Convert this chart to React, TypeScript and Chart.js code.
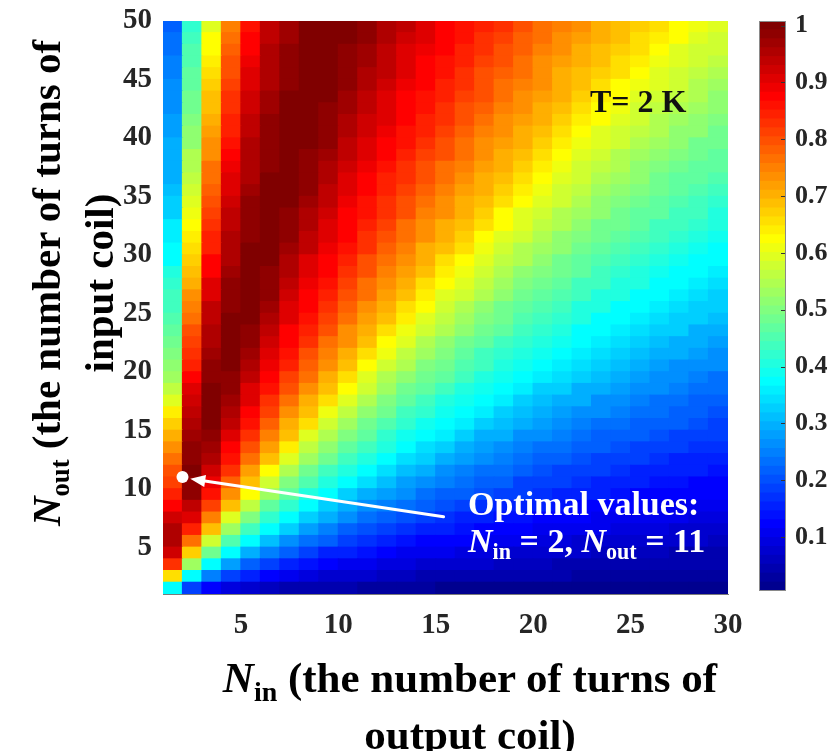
import React, { useEffect, useRef } from "react";
import { Chart, registerables } from "chart.js";

Chart.register(...registerables);

// ---------------- data ----------------
// N_in values (columns) and N_out values (rows) of the pcolor grid
const N_IN = [1, 2, 3, 4, 5, 6, 7, 8, 9, 10, 11, 12, 13, 14, 15, 16, 17, 18, 19, 20, 21, 22, 23, 24, 25, 26, 27, 28, 29];
const N_OUT = [1, 2, 3, 4, 5, 6, 7, 8, 9, 10, 11, 12, 13, 14, 15, 16, 17, 18, 19, 20, 21, 22, 23, 24, 25, 26, 27, 28, 29, 30, 31, 32, 33, 34, 35, 36, 37, 38, 39, 40, 41, 42, 43, 44, 45, 46, 47, 48, 49];

const X_TICKS = [5, 10, 15, 20, 25, 30];
const Y_TICKS = [5, 10, 15, 20, 25, 30, 35, 40, 45, 50];
const CB_TICKS = [0.1, 0.2, 0.3, 0.4, 0.5, 0.6, 0.7, 0.8, 0.9, 1];
const X_MIN = 1, X_MAX = 30;
const Y_MIN = 1, Y_MAX = 50;
const C_MIN = 0.005, C_MAX = 1.008;

const OPT_NIN = 2;
const OPT_NOUT = 11;

// normalized value (percent) for each N_out row, one entry per N_in
const ROW_01 = [37, 19, 12, 9, 7, 6, 5, 5, 4, 4, 3, 3, 3, 3, 2, 2, 2, 2, 2, 2, 2, 2, 2, 2, 1, 1, 1, 1, 1];
const ROW_02 = [65, 37, 25, 19, 15, 12, 11, 9, 8, 7, 7, 6, 6, 5, 5, 5, 4, 4, 4, 4, 4, 3, 3, 3, 3, 3, 3, 3, 3];
const ROW_03 = [82, 53, 37, 28, 22, 19, 16, 14, 12, 11, 10, 9, 9, 8, 7, 7, 7, 6, 6, 6, 5, 5, 5, 5, 4, 4, 4, 4, 4];
const ROW_04 = [92, 67, 48, 37, 30, 25, 21, 19, 16, 15, 14, 12, 11, 11, 10, 9, 9, 8, 8, 7, 7, 7, 6, 6, 6, 6, 5, 5, 5];
const ROW_05 = [95, 77, 58, 45, 37, 31, 26, 23, 21, 19, 17, 15, 14, 13, 12, 12, 11, 10, 10, 9, 9, 8, 8, 8, 7, 7, 7, 7, 6];
const ROW_06 = [95, 85, 68, 53, 43, 37, 32, 28, 25, 22, 20, 19, 17, 16, 15, 14, 13, 12, 12, 11, 11, 10, 10, 9, 9, 9, 8, 8, 8];
const ROW_07 = [92, 90, 75, 60, 50, 42, 37, 32, 29, 26, 24, 22, 20, 19, 17, 16, 15, 14, 14, 13, 12, 12, 11, 11, 10, 10, 10, 9, 9];
const ROW_08 = [88, 94, 81, 68, 56, 47, 42, 37, 33, 30, 27, 25, 23, 21, 20, 18, 17, 16, 16, 15, 14, 13, 13, 12, 12, 11, 11, 11, 10];
const ROW_09 = [84, 98, 86, 74, 62, 53, 46, 41, 37, 33, 30, 28, 26, 24, 22, 21, 20, 19, 18, 17, 16, 15, 15, 14, 13, 13, 12, 12, 12];
const ROW_10 = [81, 99, 89, 78, 68, 58, 50, 45, 40, 37, 34, 31, 28, 26, 25, 23, 22, 21, 19, 19, 18, 17, 16, 15, 15, 14, 14, 13, 13];
const ROW_11 = [79, 100, 92, 82, 72, 63, 55, 49, 44, 40, 37, 34, 31, 29, 27, 25, 24, 23, 21, 20, 19, 19, 18, 17, 16, 16, 15, 15, 14];
const ROW_12 = [76, 99, 95, 86, 76, 68, 59, 53, 48, 43, 40, 37, 34, 32, 30, 28, 26, 25, 23, 22, 21, 20, 19, 19, 18, 17, 16, 16, 15];
const ROW_13 = [73, 98, 97, 88, 80, 72, 64, 56, 51, 46, 43, 40, 37, 34, 32, 30, 28, 27, 25, 24, 23, 22, 21, 20, 19, 18, 18, 17, 17];
const ROW_14 = [70, 97, 99, 90, 83, 75, 68, 60, 54, 50, 46, 42, 39, 37, 35, 32, 30, 29, 27, 26, 25, 24, 22, 22, 21, 20, 19, 18, 18];
const ROW_15 = [67, 96, 100, 93, 86, 78, 71, 65, 58, 53, 48, 45, 42, 39, 37, 35, 33, 31, 29, 28, 26, 25, 24, 23, 22, 21, 21, 20, 19];
const ROW_16 = [64, 94, 100, 95, 88, 81, 74, 68, 61, 56, 51, 48, 44, 42, 39, 37, 35, 33, 31, 30, 28, 27, 26, 25, 24, 23, 22, 21, 20];
const ROW_17 = [60, 92, 100, 97, 90, 83, 77, 71, 65, 59, 54, 50, 47, 44, 41, 39, 37, 35, 33, 31, 30, 29, 27, 26, 25, 24, 23, 22, 22];
const ROW_18 = [56, 90, 100, 98, 91, 86, 79, 74, 68, 62, 57, 53, 49, 46, 43, 41, 39, 37, 35, 33, 32, 30, 29, 28, 27, 26, 25, 24, 23];
const ROW_19 = [53, 88, 99, 99, 93, 87, 81, 76, 71, 65, 60, 55, 51, 48, 46, 43, 41, 39, 37, 35, 34, 32, 31, 29, 28, 27, 26, 25, 24];
const ROW_20 = [51, 85, 98, 100, 95, 89, 84, 78, 73, 68, 63, 58, 54, 50, 48, 45, 43, 41, 39, 37, 35, 34, 32, 31, 30, 28, 27, 26, 26];
const ROW_21 = [50, 83, 97, 100, 97, 90, 86, 80, 75, 71, 66, 61, 56, 53, 50, 47, 44, 42, 40, 39, 37, 35, 34, 32, 31, 30, 29, 28, 27];
const ROW_22 = [48, 81, 96, 100, 98, 92, 87, 82, 77, 73, 69, 63, 59, 55, 52, 49, 46, 44, 42, 40, 39, 37, 35, 34, 33, 31, 30, 29, 28];
const ROW_23 = [47, 79, 95, 100, 99, 93, 88, 84, 79, 74, 70, 66, 61, 57, 54, 51, 48, 46, 44, 42, 40, 38, 37, 35, 34, 33, 32, 30, 29];
const ROW_24 = [45, 77, 94, 100, 100, 95, 90, 86, 81, 76, 72, 69, 64, 60, 56, 53, 50, 48, 45, 43, 42, 40, 38, 37, 36, 34, 33, 32, 31];
const ROW_25 = [44, 75, 93, 99, 100, 97, 91, 87, 82, 78, 74, 70, 66, 62, 58, 55, 52, 49, 47, 45, 43, 41, 40, 38, 37, 36, 34, 33, 32];
const ROW_26 = [43, 73, 91, 99, 100, 98, 92, 88, 84, 80, 76, 72, 69, 64, 60, 57, 54, 51, 49, 47, 45, 43, 41, 40, 38, 37, 36, 34, 33];
const ROW_27 = [42, 71, 90, 98, 100, 99, 94, 89, 86, 81, 77, 74, 70, 66, 62, 59, 56, 53, 50, 48, 46, 44, 43, 41, 40, 38, 37, 36, 34];
const ROW_28 = [40, 69, 88, 97, 100, 99, 95, 90, 87, 83, 79, 75, 72, 69, 64, 61, 57, 55, 52, 50, 48, 46, 44, 42, 41, 39, 38, 37, 36];
const ROW_29 = [38, 67, 87, 96, 100, 100, 96, 91, 88, 84, 80, 77, 73, 70, 66, 63, 59, 56, 54, 51, 49, 47, 45, 44, 42, 41, 39, 38, 37];
const ROW_30 = [37, 66, 85, 96, 100, 100, 97, 93, 89, 86, 82, 78, 75, 71, 69, 65, 61, 58, 55, 53, 51, 49, 47, 45, 43, 42, 41, 39, 38];
const ROW_31 = [36, 64, 84, 95, 99, 100, 98, 94, 90, 87, 83, 79, 76, 73, 70, 67, 63, 60, 57, 54, 52, 50, 48, 46, 45, 43, 42, 40, 39];
const ROW_32 = [35, 62, 82, 94, 99, 100, 99, 95, 91, 87, 84, 81, 77, 74, 71, 69, 65, 62, 59, 56, 54, 51, 49, 48, 46, 44, 43, 42, 40];
const ROW_33 = [33, 61, 81, 93, 98, 100, 99, 96, 92, 88, 86, 82, 79, 75, 73, 70, 67, 63, 60, 58, 55, 53, 51, 49, 47, 46, 44, 43, 41];
const ROW_34 = [32, 59, 80, 92, 98, 100, 100, 97, 93, 89, 86, 83, 80, 77, 74, 71, 69, 65, 62, 59, 57, 54, 52, 50, 48, 47, 45, 44, 42];
const ROW_35 = [31, 58, 78, 91, 97, 100, 100, 98, 94, 90, 87, 84, 81, 78, 75, 72, 70, 67, 64, 61, 58, 56, 53, 51, 50, 48, 46, 45, 44];
const ROW_36 = [30, 56, 77, 90, 96, 100, 100, 98, 95, 91, 88, 85, 82, 79, 76, 73, 71, 68, 65, 62, 59, 57, 55, 53, 51, 49, 47, 46, 45];
const ROW_37 = [30, 55, 76, 89, 96, 99, 100, 99, 96, 92, 89, 86, 83, 80, 77, 75, 72, 70, 67, 64, 61, 58, 56, 54, 52, 50, 49, 47, 46];
const ROW_38 = [29, 54, 74, 88, 95, 99, 100, 99, 97, 93, 90, 87, 84, 81, 79, 76, 73, 71, 69, 65, 63, 60, 58, 55, 53, 52, 50, 48, 47];
const ROW_39 = [29, 52, 73, 86, 95, 99, 100, 100, 98, 94, 91, 88, 86, 83, 80, 77, 74, 72, 70, 67, 64, 61, 59, 57, 55, 53, 51, 49, 48];
const ROW_40 = [28, 51, 72, 85, 94, 98, 100, 100, 98, 95, 92, 89, 86, 84, 81, 78, 75, 73, 71, 69, 66, 63, 60, 58, 56, 54, 52, 51, 49];
const ROW_41 = [28, 50, 70, 84, 93, 98, 100, 100, 99, 96, 92, 90, 87, 85, 82, 79, 76, 74, 72, 70, 67, 64, 62, 59, 57, 55, 53, 52, 50];
const ROW_42 = [27, 49, 69, 83, 92, 97, 100, 100, 99, 97, 93, 90, 88, 86, 83, 80, 78, 75, 73, 71, 69, 66, 63, 61, 58, 56, 55, 53, 51];
const ROW_43 = [26, 48, 68, 82, 92, 97, 100, 100, 100, 97, 94, 91, 88, 86, 84, 81, 79, 76, 74, 72, 70, 67, 64, 62, 60, 58, 56, 54, 52];
const ROW_44 = [26, 47, 67, 81, 91, 96, 99, 100, 100, 98, 95, 92, 89, 87, 85, 82, 79, 77, 75, 73, 70, 69, 66, 63, 61, 59, 57, 55, 53];
const ROW_45 = [25, 46, 66, 80, 90, 96, 99, 100, 100, 99, 96, 93, 90, 88, 86, 83, 80, 78, 76, 74, 71, 69, 67, 65, 62, 60, 58, 56, 54];
const ROW_46 = [25, 45, 64, 79, 89, 95, 98, 100, 100, 99, 97, 93, 91, 88, 86, 84, 81, 79, 77, 74, 72, 70, 69, 66, 64, 61, 59, 57, 56];
const ROW_47 = [24, 45, 63, 78, 88, 95, 98, 100, 100, 99, 97, 94, 91, 89, 87, 85, 82, 80, 78, 75, 73, 71, 69, 67, 65, 63, 60, 58, 57];
const ROW_48 = [23, 44, 62, 77, 87, 94, 97, 100, 100, 100, 98, 95, 92, 90, 87, 86, 83, 81, 78, 76, 74, 72, 70, 69, 66, 64, 62, 60, 58];
const ROW_49 = [22, 42, 59, 75, 86, 93, 97, 100, 100, 100, 98, 96, 93, 90, 88, 86, 84, 82, 79, 77, 75, 73, 71, 69, 67, 65, 63, 61, 59];

const ROWS = [
  ROW_01, ROW_02, ROW_03, ROW_04, ROW_05, ROW_06, ROW_07, ROW_08, ROW_09, ROW_10,
  ROW_11, ROW_12, ROW_13, ROW_14, ROW_15, ROW_16, ROW_17, ROW_18, ROW_19, ROW_20,
  ROW_21, ROW_22, ROW_23, ROW_24, ROW_25, ROW_26, ROW_27, ROW_28, ROW_29, ROW_30,
  ROW_31, ROW_32, ROW_33, ROW_34, ROW_35, ROW_36, ROW_37, ROW_38, ROW_39, ROW_40,
  ROW_41, ROW_42, ROW_43, ROW_44, ROW_45, ROW_46, ROW_47, ROW_48, ROW_49,
];

// ---------------- styling ----------------
const FONT = "'Liberation Serif', 'Times New Roman', serif";
const TICK_COLOR = "#262626";

// MATLAB jet(64) colormap entry, 1-based index
function jet64(i: number): string {
  const r = i <= 24 ? 0 : i <= 40 ? (i - 24) / 16 : i <= 55 ? 1 : (72 - i) / 16;
  const g = i <= 8 ? 0 : i <= 24 ? (i - 8) / 16 : i <= 39 ? 1 : i <= 55 ? (56 - i) / 16 : 0;
  const b = i <= 8 ? (i + 8) / 16 : i <= 23 ? 1 : i <= 39 ? (40 - i) / 16 : 0;
  return `rgb(${Math.round(r * 255)},${Math.round(g * 255)},${Math.round(b * 255)})`;
}
function colorFor(v: number): string {
  const t = (v - C_MIN) / (C_MAX - C_MIN);
  let i = Math.floor(t * 64) + 1;
  if (i < 1) i = 1;
  if (i > 64) i = 64;
  return jet64(i);
}

// arrow of the annotation, in data coordinates (N_in, N_out)
const ARROW_TAIL = { x: 15.4, y: 7.6 };
const ARROW_TIP = { x: 2.4, y: 10.85 };

const arrowPlugin = {
  id: "optArrow",
  afterDatasetsDraw(chart: any) {
    const { ctx, scales } = chart;
    const x0 = scales.x.getPixelForValue(ARROW_TAIL.x);
    const y0 = scales.y.getPixelForValue(ARROW_TAIL.y);
    const x1 = scales.x.getPixelForValue(ARROW_TIP.x);
    const y1 = scales.y.getPixelForValue(ARROW_TIP.y);
    const dx = x1 - x0, dy = y1 - y0;
    const len = Math.hypot(dx, dy);
    const ux = dx / len, uy = dy / len;
    const headLen = 15, headHalf = 6;
    const bx = x1 - ux * headLen, by = y1 - uy * headLen;
    ctx.save();
    ctx.strokeStyle = "#ffffff";
    ctx.fillStyle = "#ffffff";
    ctx.lineWidth = 3;
    ctx.lineCap = "round";
    ctx.beginPath();
    ctx.moveTo(x0, y0);
    ctx.lineTo(bx + ux * 2, by + uy * 2);
    ctx.stroke();
    ctx.beginPath();
    ctx.moveTo(x1, y1);
    ctx.lineTo(bx - uy * headHalf, by + ux * headHalf);
    ctx.lineTo(bx + uy * headHalf, by - ux * headHalf);
    ctx.closePath();
    ctx.fill();
    ctx.restore();
  },
};

const colorbarPlugin = {
  id: "cbFrame",
  afterDatasetsDraw(chart: any) {
    const { ctx, chartArea, scales } = chart;
    ctx.save();
    ctx.strokeStyle = "#333333";
    ctx.lineWidth = 1;
    for (const t of CB_TICKS) {
      const y = Math.round(scales.y.getPixelForValue(t)) + 0.5;
      ctx.beginPath();
      ctx.moveTo(chartArea.right - 5, y);
      ctx.lineTo(chartArea.right, y);
      ctx.stroke();
    }
    ctx.strokeStyle = "#8a8a8a";
    ctx.strokeRect(
      Math.round(chartArea.left) + 0.5,
      Math.round(chartArea.top) + 0.5,
      Math.round(chartArea.right - chartArea.left) - 1,
      Math.round(chartArea.bottom - chartArea.top) - 1
    );
    ctx.restore();
  },
};

function zeroPadding(s: any) {
  s.paddingTop = 0;
  s.paddingBottom = 0;
  s.paddingLeft = 0;
  s.paddingRight = 0;
}

function HeatmapCanvas() {
  const ref = useRef<HTMLCanvasElement | null>(null);
  useEffect(() => {
    if (!ref.current) return;
    const heat = ROWS.map((row, j) => ({
      type: "bar" as const,
      label: `Nout ${N_OUT[j]}`,
      data: row.map((_, i) => ({ x: N_IN[i] + 0.5, y: [N_OUT[j], N_OUT[j] + 1] })),
      backgroundColor: row.map((v) => colorFor(v / 100)),
      borderWidth: 0,
      barPercentage: 1,
      categoryPercentage: 1,
      grouped: false,
      inflateAmount: 0.6,
      order: 2,
    }));
    const opt = {
      type: "scatter" as const,
      label: "optimal",
      data: [{ x: OPT_NIN, y: OPT_NOUT }],
      pointRadius: 6,
      pointBackgroundColor: "#ffffff",
      pointBorderWidth: 0,
      order: 0,
    };
    const tickFont = { family: FONT, size: 29, weight: "bold" as const };
    const chart = new Chart(ref.current, {
      type: "bar",
      data: { datasets: [...heat, opt] as any },
      options: {
        responsive: false,
        maintainAspectRatio: false,
        animation: false,
        events: [],
        layout: { autoPadding: false, padding: { left: 0, right: 103, top: 21, bottom: 0 } },
        plugins: { legend: { display: false }, tooltip: { enabled: false } },
        scales: {
          x: {
            type: "linear",
            min: X_MIN,
            max: X_MAX,
            offset: false,
            z: 1,
            grid: { display: false, drawTicks: false, offset: false },
            border: { display: true, color: "#7a7a7a", width: 1 },
            ticks: { font: tickFont, color: TICK_COLOR, padding: 14, maxRotation: 0, autoSkip: false },
            afterBuildTicks: (s: any) => {
              s.ticks = X_TICKS.map((v) => ({ value: v }));
            },
            afterFit: (s: any) => {
              s.height = 157;
              zeroPadding(s);
            },
          },
          y: {
            type: "linear",
            min: Y_MIN,
            max: Y_MAX,
            grid: { display: false, drawTicks: false },
            border: { display: false },
            ticks: { font: tickFont, color: TICK_COLOR, padding: 11 },
            afterBuildTicks: (s: any) => {
              s.ticks = Y_TICKS.map((v) => ({ value: v }));
            },
            afterFit: (s: any) => {
              s.width = 163;
              zeroPadding(s);
            },
          },
        },
      } as any,
      plugins: [arrowPlugin],
    });
    return () => chart.destroy();
  }, []);
  return (
    <canvas
      ref={ref}
      width={831}
      height={751}
      style={{ position: "absolute", left: 0, top: 0, width: 831, height: 751 }}
    />
  );
}

function ColorbarCanvas() {
  const ref = useRef<HTMLCanvasElement | null>(null);
  useEffect(() => {
    if (!ref.current) return;
    const step = (C_MAX - C_MIN) / 64;
    const segs = Array.from({ length: 64 }, (_, k) => ({
      label: `c${k + 1}`,
      data: [[C_MIN + k * step, C_MIN + (k + 1) * step]],
      backgroundColor: jet64(k + 1),
      borderWidth: 0,
      barPercentage: 1,
      categoryPercentage: 1,
      grouped: false,
      inflateAmount: 0.5,
    }));
    const chart = new Chart(ref.current, {
      type: "bar",
      data: { labels: [""], datasets: segs as any },
      options: {
        responsive: false,
        maintainAspectRatio: false,
        animation: false,
        events: [],
        layout: { autoPadding: false, padding: { left: 19, right: 0, top: 21, bottom: 160 } },
        plugins: { legend: { display: false }, tooltip: { enabled: false } },
        scales: {
          x: { display: false },
          y: {
            position: "right",
            min: C_MIN,
            max: C_MAX,
            grid: { display: false, drawTicks: false },
            border: { display: false },
            ticks: {
              font: { family: FONT, size: 26, weight: "bold" },
              color: TICK_COLOR,
              padding: 9,
              callback: (v: any) => String(v),
            },
            afterBuildTicks: (s: any) => {
              s.ticks = CB_TICKS.map((v) => ({ value: v }));
            },
            afterFit: (s: any) => {
              s.width = 45;
              zeroPadding(s);
            },
          },
        },
      } as any,
      plugins: [colorbarPlugin],
    });
    return () => chart.destroy();
  }, []);
  return (
    <canvas
      ref={ref}
      width={91}
      height={751}
      style={{ position: "absolute", left: 740, top: 0, width: 91, height: 751 }}
    />
  );
}

const subStyle: React.CSSProperties = { fontSize: "0.65em", position: "relative", top: "0.32em" };

export default function App() {
  return (
    <div
      style={{
        position: "absolute",
        left: 0,
        top: 0,
        width: 831,
        height: 751,
        overflow: "hidden",
        background: "#ffffff",
        fontFamily: FONT,
        fontWeight: "bold",
      }}
    >
      <HeatmapCanvas />
      <ColorbarCanvas />
      {/* annotation: temperature */}
      <div
        style={{
          position: "absolute",
          left: 590,
          top: 81,
          fontSize: 32,
          lineHeight: "40px",
          color: "#111",
          whiteSpace: "nowrap",
        }}
      >
        T= 2 K
      </div>
      {/* annotation: optimum */}
      <div
        style={{
          position: "absolute",
          left: 468,
          top: 485,
          fontSize: 34,
          lineHeight: "37px",
          color: "#ffffff",
          whiteSpace: "nowrap",
        }}
      >
        <div>Optimal values:</div>
        <div>
          <i>N</i>
          <span style={subStyle}>in</span> = {OPT_NIN}, <i>N</i>
          <span style={subStyle}>out</span> = {OPT_NOUT}
        </div>
      </div>
      {/* x axis title */}
      <div
        style={{
          position: "absolute",
          left: 70,
          top: 652,
          width: 800,
          textAlign: "center",
          fontSize: 43,
          lineHeight: "52px",
          color: "#000",
          whiteSpace: "nowrap",
        }}
      >
        <div>
          <i>N</i>
          <span style={subStyle}>in</span> (the number of turns of
        </div>
        <div>output coil)</div>
      </div>
      {/* y axis title */}
      <div
        style={{
          position: "absolute",
          left: 70 - 290,
          top: 283 - 48,
          width: 580,
          height: 96,
          transform: "rotate(-90deg)",
          transformOrigin: "50% 50%",
          textAlign: "center",
          fontSize: 41,
          lineHeight: "48px",
          color: "#000",
          whiteSpace: "nowrap",
        }}
      >
        <div>
          <i>N</i>
          <span style={subStyle}>out</span> (the number of turns of
        </div>
        <div>input coil)</div>
      </div>
    </div>
  );
}
